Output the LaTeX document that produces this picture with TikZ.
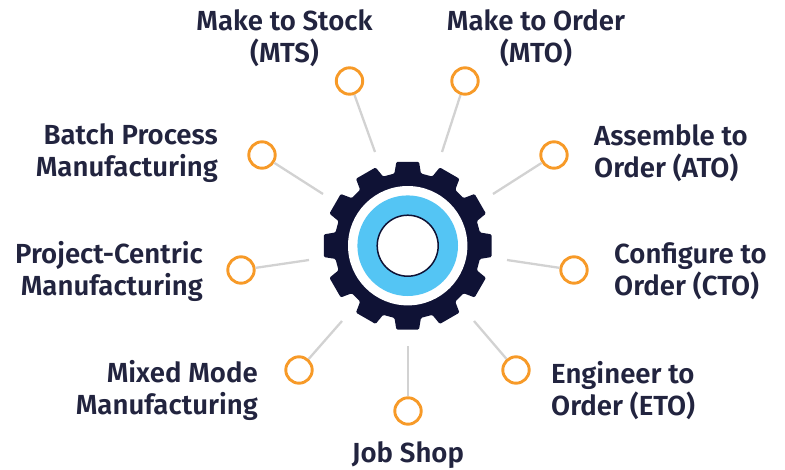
\documentclass[tikz,border=0pt]{standalone}
\usepackage{fontspec}
\setmainfont{Fira Sans SemiBold}
\definecolor{navy}{HTML}{0F1235}
\definecolor{labelc}{HTML}{22243F}
\definecolor{skyb}{HTML}{54C5F4}
\definecolor{orng}{HTML}{F79A28}
\definecolor{linec}{HTML}{D2D2D2}
\tikzset{
  ring/.style={circle,draw=orng,line width=2.9pt,fill=white,minimum size=26.4pt,inner sep=0pt},
  spoke/.style={draw=linec,line width=2.3pt},
  lab/.style={text=labelc,font=\fontsize{27.6}{31.8}\selectfont,inner sep=0pt,align=center},
  labr/.style={lab,align=right,anchor=east},
  labl/.style={lab,align=left,anchor=west}
}
\begin{document}
\begin{tikzpicture}[x=1pt,y=-1pt]
\useasboundingbox (0,0) rectangle (785,469);
\begin{scope}[shift={(407.7,245.7)}]
\fill[navy,rounded corners=1.2pt]
  (-10.4:73.4)
  \foreach \a in {0,30,...,330}{
    -- (\a-10.4:73.4) -- (\a-7.7:84.6) -- (\a+7.7:84.6) -- (\a+10.4:73.4)
  } -- cycle;
\node[circle,fill=white,minimum size=119.4pt,inner sep=0pt] (hub) at (0,0) {};
\node[circle,fill=skyb,minimum size=100.6pt,inner sep=0pt] (blue) at (0,0) {};
\node[circle,fill=white,draw=navy,line width=1.5pt,minimum size=61pt,inner sep=0pt] (eye) at (0,0) {};
\end{scope}
% rings
\node[ring] (mts) at (349.5,81) {};
\node[ring] (mto) at (465,81) {};
\node[ring] (ato) at (554,155) {};
\node[ring] (cto) at (574,270) {};
\node[ring] (eto) at (516,370) {};
\node[ring] (job) at (408,411) {};
\node[ring] (mix) at (299,370) {};
\node[ring] (prj) at (241,270) {};
\node[ring] (bat) at (262,155) {};
% inner ends
\coordinate (imts) at (375,152);
\coordinate (imto) at (442,152);
\coordinate (iato) at (493,194);
\coordinate (icto) at (507,260);
\coordinate (ieto) at (474,321);
\coordinate (ijob) at (408,346);
\coordinate (imix) at (342,321);
\coordinate (iprj) at (309,260);
\coordinate (ibat) at (323,194);
\foreach \n in {mts,mto,ato,cto,eto,job,mix,prj,bat}
  \draw[spoke] (\n) -- (i\n);
% labels
\node[lab] (tmts) at (284.5,38) {Make to Stock\\(MTS)};
\node[lab] (tmto) at (536,38) {Make to Order\\(MTO)};
\node[labr] (tbat) at (218,153) {Batch Process\\Manufacturing};
\node[labr] (tprj) at (203,271.5) {Project-Centric\\Manufacturing};
\node[labr] (tmix) at (258,390.5) {Mixed Mode\\Manufacturing};
\node[labl] (tato) at (594,153) {Assemble to\\Order (ATO)};
\node[labl] (tcto) at (614,271.5) {Configure to\\Order (CTO)};
\node[labl] (teto) at (551,390.5) {Engineer to\\Order (ETO)};
\node[lab] (tjob) at (408,455.5) {Job Shop};
\end{tikzpicture}
\end{document}
